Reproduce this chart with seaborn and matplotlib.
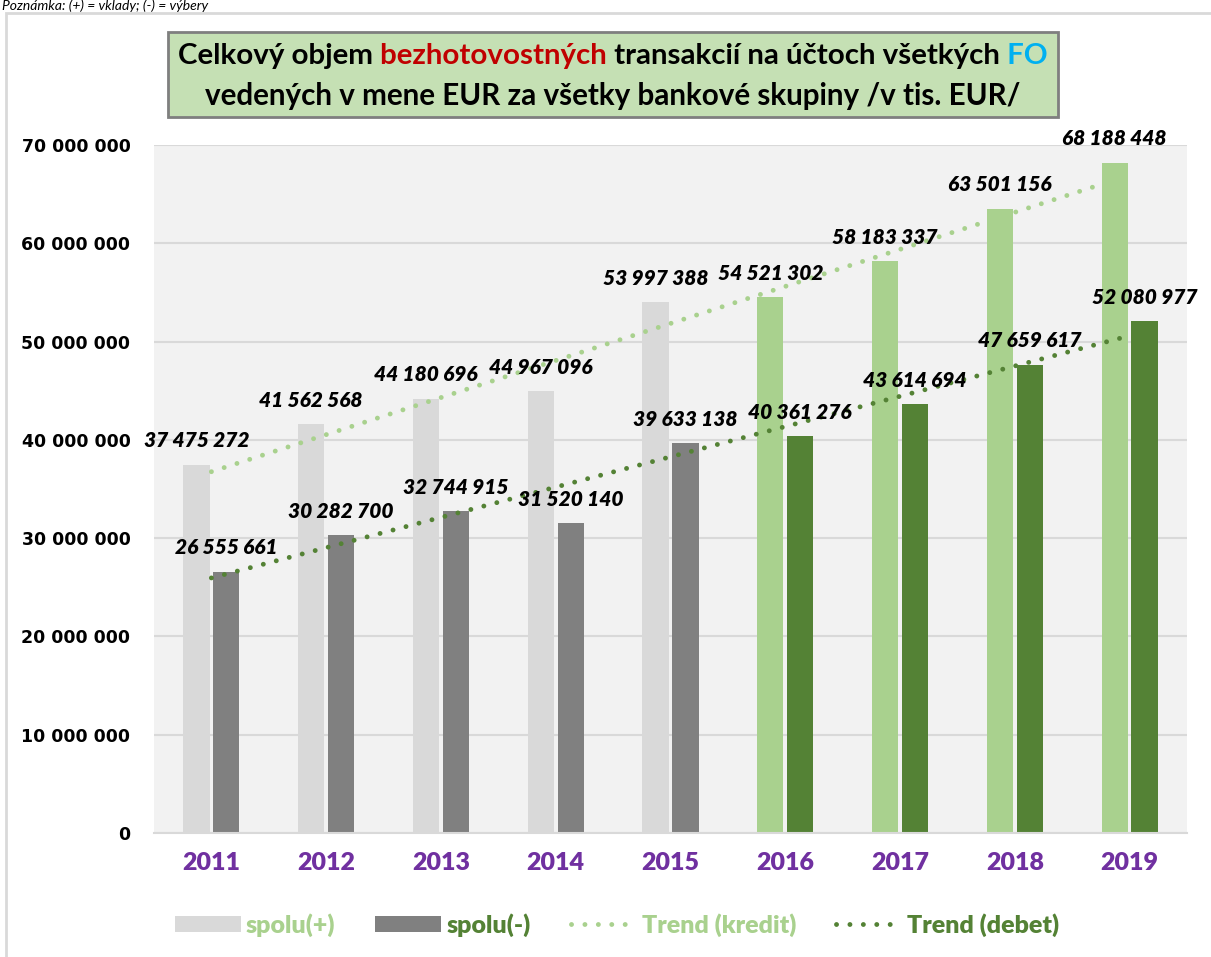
import numpy as np
import pandas as pd
import matplotlib
matplotlib.use("Agg")
import matplotlib.pyplot as plt
import seaborn as sns
from matplotlib.patches import Patch, Rectangle
from matplotlib.lines import Line2D

years = ["2011", "2012", "2013", "2014", "2015", "2016", "2017", "2018", "2019"]
kredit = [37475272, 41562568, 44180696, 44967096, 53997388, 54521302, 58183337, 63501156, 68188448]
debet = [26555661, 30282700, 32744915, 31520140, 39633138, 40361276, 43614694, 47659617, 52080977]
series = ["spolu(+)", "spolu(-)"]
title_1 = [("Celkový objem", "black"), (" bezhotovostných", "#C00000"),
           (" transakcií na účtoch všetkých", "black"), (" FO", "#00B0F0")]
title_2 = [("vedených v mene EUR za všetky bankové skupiny /v tis. EUR/", "black")]
note = "Poznámka: (+) = vklady; (-) = výbery"

FONT = ["Lato", "DejaVu Sans"]
LGRAY, DGRAY = "#D9D9D9", "#808080"
LGREEN, DGREEN = "#A9D18E", "#548235"

df = pd.DataFrame({
    "rok": years * 2,
    "typ": [series[0]] * 9 + [series[1]] * 9,
    "hodnota": kredit + debet,
})

fig = plt.figure(figsize=(12.11, 9.57), dpi=100)
W, H = 1211, 957
ax = fig.add_axes([154 / W, 1 - 833 / H, (1187 - 154) / W, (833 - 145) / H])
ax.set_facecolor("#F2F2F2")

sns.barplot(data=df, x="rok", y="hodnota", hue="typ", width=0.52, gap=0.12,
            legend=False, ax=ax, saturation=1)

# older years gray, 2016+ green
for ci, cont in enumerate(ax.containers):
    vals = kredit if ci == 0 else debet
    for i, bar in enumerate(cont):
        if ci == 0:
            bar.set_facecolor(LGRAY if int(years[i]) < 2016 else LGREEN)
        else:
            bar.set_facecolor(DGRAY if int(years[i]) < 2016 else DGREEN)
        bar.set_edgecolor("none")
        ax.annotate(f"{vals[i]:,}".replace(",", " "),
                    (bar.get_x() + bar.get_width() / 2, bar.get_height()),
                    xytext=(0, 24), textcoords="offset pixels", ha="center", va="center",
                    fontsize=15, fontweight="heavy", fontstyle="italic",
                    family=FONT, color="black", zorder=5)

# linear trends
dots = dict(linestyle=(0, (0.01, 2.75)), dash_capstyle="round", linewidth=3.5)
xs = np.arange(len(years))
sns.regplot(x=xs, y=np.array(kredit), scatter=False, ci=None, truncate=True, ax=ax,
            line_kws=dict(color=LGREEN, zorder=4, **dots))
sns.regplot(x=xs, y=np.array(debet), scatter=False, ci=None, truncate=True, ax=ax,
            line_kws=dict(color=DGREEN, zorder=4, **dots))

ax.set_xlim(-0.5, 8.5)
ax.set_ylim(0, 70000000)
ax.set_yticks(np.arange(0, 70000001, 10000000))
ax.set_yticklabels([f"{int(v):,}".replace(",", " ") for v in ax.get_yticks()],
                   fontsize=12.5, fontweight="bold", family="DejaVu Sans")
ax.set_xticks(xs)
ax.set_xticklabels(years, fontsize=18, fontweight="heavy", family=FONT, color="#7030A0")
ax.tick_params(axis="y", length=0, pad=17)
ax.tick_params(axis="x", length=0, pad=14)
ax.set_xlabel("")
ax.set_ylabel("")
ax.grid(axis="y", color=LGRAY, linewidth=1.5)
ax.set_axisbelow(True)
for s in ["left", "right", "top"]:
    ax.spines[s].set_visible(False)
ax.spines["bottom"].set_color(LGRAY)
ax.spines["bottom"].set_linewidth(1.5)

# chart frame + note
fig.patches.append(Rectangle((6 / W, -0.01), 1.0, 1 - 13 / H + 0.01, transform=fig.transFigure,
                             fill=False, edgecolor=LGRAY, linewidth=2))
fig.text(2 / W, 1 - 10 / H, note, fontsize=10, fontstyle="italic", family=FONT,
         va="baseline", ha="left")

# title box
fig.patches.append(Rectangle((168 / W, 1 - 117 / H), (1058 - 168) / W, (117 - 32) / H,
                             transform=fig.transFigure, facecolor="#C5E0B4",
                             edgecolor="#7F7F7F", linewidth=2))
renderer = fig.canvas.get_renderer()


def rich_line(pieces, y_px, target_w):
    texts = [fig.text(0, 1 - y_px / H, s, color=c, fontsize=20, fontweight="bold",
                      family=FONT, va="center", ha="left") for s, c in pieces]
    total = sum(t.get_window_extent(renderer).width for t in texts)
    size = 20 * target_w / total
    for t in texts:
        t.set_fontsize(size)
    widths = [t.get_window_extent(renderer).width for t in texts]
    x = 613 - sum(widths) / 2
    for t, w in zip(texts, widths):
        t.set_x(x / W)
        x += w


rich_line(title_1, 56, 870)
rich_line(title_2, 96, 818)

handles = [Patch(facecolor=LGRAY), Patch(facecolor=DGRAY),
           Line2D([], [], color=LGREEN, **dots), Line2D([], [], color=DGREEN, **dots)]
labels = ["spolu(+)", "spolu(-)", "Trend (kredit)", "Trend (debet)"]
fig.legend(handles, labels, loc="center", bbox_to_anchor=(617 / W, 1 - 925 / H), ncol=4,
           frameon=False, prop=dict(family=FONT, weight="heavy", size=18),
           labelcolor=[LGREEN, DGREEN, LGREEN, DGREEN], handlelength=2.64,
           handleheight=0.6, handletextpad=0.2, columnspacing=1.6)

fig.savefig("out.png", dpi=100)
